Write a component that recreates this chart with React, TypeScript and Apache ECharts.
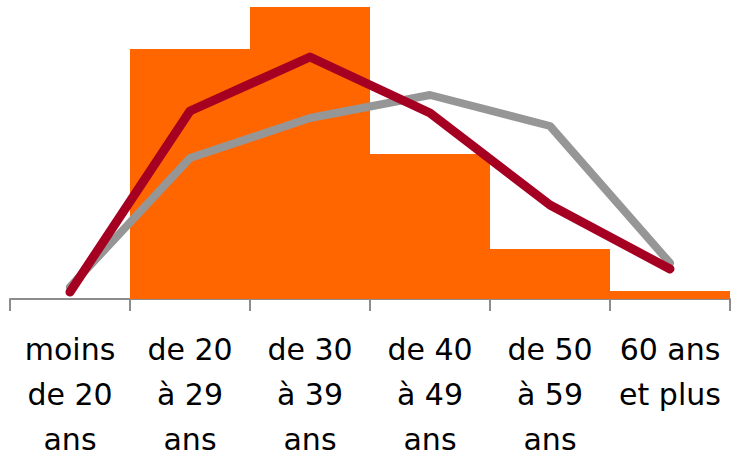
import React, { useEffect, useRef } from "react";
import * as echarts from "echarts";

const categories = [
  "moins\nde 20\nans",
  "de 20\nà 29\nans",
  "de 30\nà 39\nans",
  "de 40\nà 49\nans",
  "de 50\nà 59\nans",
  "60 ans\net plus",
];
const barValues = [0, 25.0, 29.2, 14.5, 5.0, 0.8];
const grayValues = [1.2, 14.1, 18.1, 20.4, 17.3, 3.6];
const redValues = [0.7, 18.8, 24.2, 18.6, 9.4, 3.0];

export default function App() {
  const ref = useRef<HTMLDivElement>(null);
  useEffect(() => {
    if (!ref.current) return;
    const chart = echarts.init(ref.current, undefined, { renderer: "svg" });
    chart.setOption({
      animation: false,
      grid: { left: 10, top: 3, width: 720, height: 296, containLabel: false, outerBoundsMode: "none" },
      xAxis: {
        type: "category",
        data: categories,
        boundaryGap: true,
        axisLine: { show: true, lineStyle: { color: "#8c8c8c", width: 2 } },
        axisTick: { show: true, length: 12, lineStyle: { color: "#8c8c8c", width: 2 } },
        axisLabel: {
          interval: 0,
          margin: 28,
          fontSize: 30,
          lineHeight: 45,
          color: "#000",
          fontFamily: "DejaVu Sans",
          verticalAlign: "top",
        },
        splitLine: { show: false },
      },
      yAxis: {
        type: "value",
        min: 0,
        max: 29.6,
        show: false,
        splitLine: { show: false },
      },
      series: [
        {
          type: "bar",
          data: barValues,
          barCategoryGap: "0%",
          itemStyle: { color: "#ff6600" },
          z: 1,
        },
        {
          type: "line",
          data: grayValues,
          symbol: "none",
          lineStyle: { color: "#969696", width: 8, cap: "round", join: "round" },
          z: 2,
        },
        {
          type: "line",
          data: redValues,
          symbol: "none",
          lineStyle: { color: "#a50021", width: 9, cap: "round", join: "round" },
          z: 3,
        },
      ],
    });
    return () => chart.dispose();
  }, []);
  return (
    <div
      ref={ref}
      style={{ position: "fixed", left: 0, top: 0, width: 734, height: 457, background: "#fff" }}
    />
  );
}
